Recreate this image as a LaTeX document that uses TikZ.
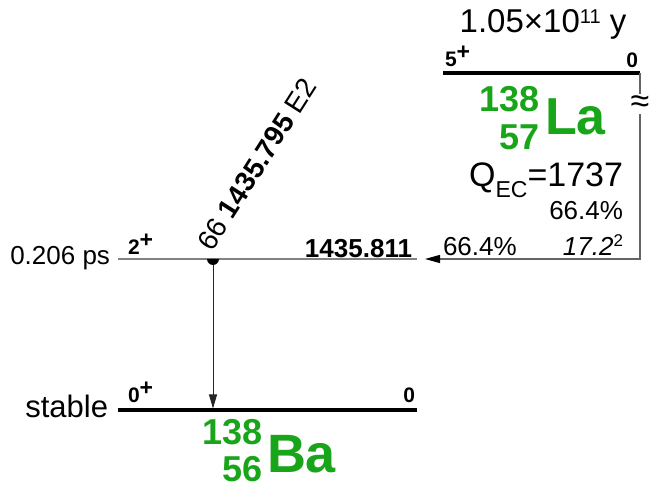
\documentclass[tikz,border=0pt]{standalone}
\usepackage{fontspec}
\setmainfont{Liberation Sans}
\usetikzlibrary{arrows.meta}
\definecolor{nucgreen}{RGB}{25,165,25}
\definecolor{lvlgray}{RGB}{130,130,130}
\definecolor{ecgray}{RGB}{100,100,100}
\newcommand{\myfs}[1]{\fontsize{#1}{#1}\selectfont}
\newcommand{\spinlbl}[1]{\myfs{21}\bfseries #1\raisebox{7pt}{\myfs{23}+}}
\begin{document}
\begin{tikzpicture}[x=1pt,y=1pt,
  txt/.style={inner sep=0pt,outer sep=0pt},
  nuc/.style={txt,text=nucgreen,font=\bfseries},
  lvlthick/.style={line width=4pt},
  lvlthin/.style={draw=lvlgray,line width=1.3pt},
  transline/.style={draw=black!85,line width=0.9pt,-{Triangle[length=14pt,width=8pt]}},
  ecline/.style={draw=ecgray,line width=1.2pt,-{Triangle[length=15pt,width=8pt,color=black]}}]
\useasboundingbox (0,0) rectangle (654,490);

% levels
\coordinate (baL) at (118,79.5); \coordinate (baR) at (417,79.5);
\coordinate (b2L) at (118,231);  \coordinate (b2R) at (417,231);
\coordinate (laL) at (443,417);  \coordinate (laR) at (640,417);
\draw[lvlthick] (baL) -- (baR);
\draw[lvlthin] (b2L) -- (b2R);
\draw[lvlthick] (laL) -- (laR);

% gamma transition
\coordinate (gtop) at (213,231);
\coordinate (gbot) at (213,81.5);
\draw[transline] (gtop) -- (gbot);
\fill (207,231) arc[start angle=180,end angle=360,radius=6] -- cycle;
\node[txt,rotate=57.5,anchor=base west] (glbl) at (212,237)
  {\myfs{28}66 \textbf{1435.795} E2};

% EC branch
\coordinate (ecturn) at (640,231);
\coordinate (ecend) at (425,231);
\draw[ecline] (laR) -- (ecturn) -- (ecend);
\node[txt,fill=white,inner ysep=2pt] (brk) at (640,386) {\myfs{34}≈};

% La parent
\node[txt,anchor=base] (hl) at (543,457)
  {\myfs{33}1.05×10\raisebox{9pt}{\myfs{20}11} y};
\node[txt,anchor=base west] (la5) at (445,423) {\spinlbl{5}};
\node[txt,anchor=base east] (la0) at (638,422) {\myfs{21}\bfseries 0};
\node[nuc,anchor=base west] (laSym) at (545,355) {\myfs{52}La};
\node[nuc,anchor=base east] (laA) at (540,378) {\myfs{36}138};
\node[nuc,anchor=base east] (laZ) at (540,340) {\myfs{36}57};
\node[txt,anchor=base east] (qec) at (623,303)
  {\myfs{34}Q\raisebox{-11pt}{\myfs{23}EC}=1737};
\node[txt,anchor=base east] (ecpct) at (623,270) {\myfs{26}66.4\%};
\node[txt,anchor=base west] (ecI1) at (443,234) {\myfs{26}66.4\%};
\node[txt,anchor=base east] (ecI2) at (623,234)
  {\myfs{26}\itshape 17.2\upshape\raisebox{9pt}{\myfs{17}2}};

% 2+ level labels
\node[txt,anchor=base east] (hl2) at (110,225) {\myfs{26}0.206 ps};
\node[txt,anchor=base west] (sp2) at (128,235) {\spinlbl{2}};
\node[txt,anchor=base east] (e2) at (412,232.5) {\myfs{26}\bfseries 1435.811};

% ground level labels
\node[txt,anchor=base east] (st) at (108,72) {\myfs{31}stable};
\node[txt,anchor=base west] (sp0) at (128,87) {\spinlbl{0}};
\node[txt,anchor=base east] (e0) at (415,87) {\myfs{21}\bfseries 0};
\node[nuc,anchor=base west] (baSym) at (267,17) {\myfs{54}Ba};
\node[nuc,anchor=base east] (baA) at (263,45) {\myfs{36}138};
\node[nuc,anchor=base east] (baZ) at (263,8) {\myfs{36}56};
\end{tikzpicture}
\end{document}
